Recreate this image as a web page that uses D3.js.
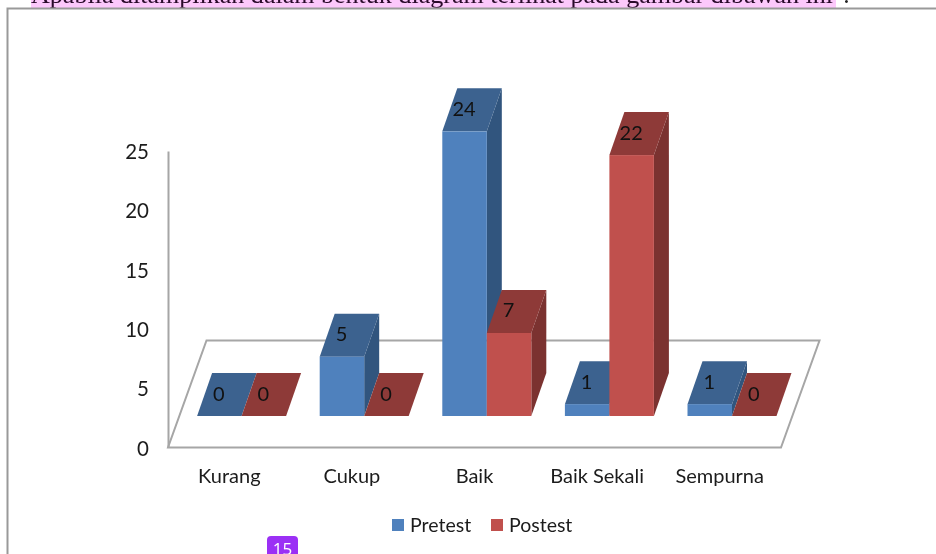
<!DOCTYPE html>
<html>
<head>
<meta charset="utf-8">
<script src="https://cdn.jsdelivr.net/npm/d3@7"></script>
<style>
  html, body { margin: 0; padding: 0; background: #fff; }
  svg { display: block; filter: blur(0.5px); }
  text { font-family: Lato, sans-serif; fill: #1c1c1c; }
</style>
</head>
<body>
<div id="container"></div>
<script>
// chart data
var categories = ["Kurang", "Cukup", "Baik", "Baik Sekali", "Sempurna"];
var seriesNames = ["Pretest", "Postest"];
var pretest = [0, 5, 24, 1, 1];
var postest = [0, 0, 7, 22, 0];
var yTicks = [0, 5, 10, 15, 20, 25];
var pageText = "Apabila ditampilkan dalam bentuk diagram terlihat pada gambar dibawah ini";
var pageNumber = "15";

var width = 936, height = 554;

var svg = d3.select("div#container")
  .append("svg")
  .attr("width", width)
  .attr("height", height);

// scanned page bits around the chart
var headW = 805;
svg.append("rect").attr("x", 31).attr("y", 0).attr("width", headW).attr("height", 8).attr("fill", "#fcc8fb");
svg.append("text")
  .attr("x", 31).attr("y", 3)
  .style("font-family", "'Liberation Serif', serif")
  .style("font-size", "25px")
  .style("fill", "#2a0a2a")
  .attr("textLength", headW - 3)
  .attr("lengthAdjust", "spacingAndGlyphs")
  .text(pageText);
svg.append("text")
  .attr("x", 843).attr("y", 3)
  .style("font-family", "'Liberation Serif', serif")
  .style("font-size", "25px")
  .style("fill", "#222")
  .text(":");
svg.append("path")
  .attr("d", "M7.5," + height + "V8.5H" + width)
  .attr("fill", "none")
  .attr("stroke", "#999")
  .attr("stroke-width", 2);

// scales
var left = 168, right = 781, y0 = 447.5, y25 = 151;
var x = d3.scaleBand().domain(categories).range([left, right]);
var y = d3.scaleLinear().domain([0, 25]).range([y0, y25]);

// 3d offsets
var floorDx = 38.5, floorDy = -107;
var barDx = 15, barDy = -43;
var barW = 44.5;
var groupShift = 12.3;   // bars sit further back on the floor than the labels
var baseLift = 31.5;     // front of the bars above front of the floor

// floor
var floor = d3.line();
svg.append("path")
  .attr("d", floor([[left, y0], [right, y0], [right + floorDx, y0 + floorDy], [left + floorDx, y0 + floorDy]]) + "Z")
  .attr("fill", "#fff")
  .attr("stroke", "#a6a6a6")
  .attr("stroke-width", 2);

// y axis
var axis = svg.append("g")
  .attr("transform", "translate(" + left + ",0)")
  .call(d3.axisLeft(y).tickValues(yTicks).tickSize(0).tickPadding(19));
axis.select(".domain").attr("stroke", "#a6a6a6").attr("stroke-width", 2);
axis.selectAll("text")
  .style("font-size", "20.5px")
  .style("font-family", "Lato, sans-serif")
  .attr("dy", "0.37em")
  .attr("fill", "#1c1c1c");

// x labels
svg.append("g").selectAll("text")
  .data(categories)
  .enter().append("text")
  .attr("x", function(d) { return x(d) + x.bandwidth() / 2; })
  .attr("y", 483)
  .attr("text-anchor", "middle")
  .style("font-size", "20px")
  .text(function(d) { return d; });

// bars
var colors = [
  {front: "#4f81bd", top: "#3c628f", side: "#31557e"},
  {front: "#c0504d", top: "#8e3a38", side: "#7b3230"}
];
var seriesValues = [pretest, postest];

var bars = [];
categories.forEach(function(c, i) {
  seriesValues.forEach(function(vals, s) {
    bars.push({cat: c, value: vals[i], s: s});
  });
});

var bar = svg.append("g").selectAll("g")
  .data(bars)
  .enter().append("g")
  .attr("transform", function(d) {
    var gx = x(d.cat) + x.bandwidth() / 2 + groupShift - barW + d.s * barW;
    return "translate(" + gx + "," + (-baseLift) + ")";
  });

bar.append("path")
  .attr("fill", function(d) { return colors[d.s].side; })
  .attr("d", function(d) {
    return floor([[barW, y0], [barW + barDx, y0 + barDy], [barW + barDx, y(d.value) + barDy], [barW, y(d.value)]]) + "Z";
  });
bar.append("path")
  .attr("fill", function(d) { return colors[d.s].top; })
  .attr("d", function(d) {
    return floor([[0, y(d.value)], [barW, y(d.value)], [barW + barDx, y(d.value) + barDy], [barDx, y(d.value) + barDy]]) + "Z";
  });
bar.append("rect")
  .attr("fill", function(d) { return colors[d.s].front; })
  .attr("width", barW)
  .attr("y", function(d) { return y(d.value); })
  .attr("height", function(d) { return y0 - y(d.value); });

// value labels are drawn last so they stay on top
svg.append("g").selectAll("text")
  .data(bars)
  .enter().append("text")
  .attr("x", function(d) {
    return x(d.cat) + x.bandwidth() / 2 + groupShift - barW + d.s * barW + barW / 2 - 0.5;
  })
  .attr("y", function(d) { return y(d.value) - baseLift + barDy / 2 - 1; })
  .attr("dy", "0.35em")
  .attr("text-anchor", "middle")
  .style("font-size", "20px")
  .style("fill", "#111")
  .text(function(d) { return d.value; });

// legend
var legendX = [392, 491];
var legend = svg.append("g").selectAll("g")
  .data(seriesNames)
  .enter().append("g")
  .attr("transform", function(d, i) { return "translate(" + legendX[i] + ",519)"; });
legend.append("rect")
  .attr("width", 12).attr("height", 12)
  .attr("fill", function(d, i) { return colors[i].front; });
legend.append("text")
  .attr("x", 18).attr("y", 13)
  .style("font-size", "19.5px")
  .text(function(d) { return d; });

// page number badge
svg.append("rect").attr("x", 267).attr("y", 536).attr("width", 31).attr("height", 24).attr("rx", 4).attr("fill", "#9b30f5");
svg.append("text")
  .attr("x", 282.5).attr("y", 555)
  .attr("text-anchor", "middle")
  .style("font-size", "17px")
  .style("font-family", "'Open Sans', sans-serif")
  .style("fill", "#fff")
  .text(pageNumber);
</script>
</body>
</html>
